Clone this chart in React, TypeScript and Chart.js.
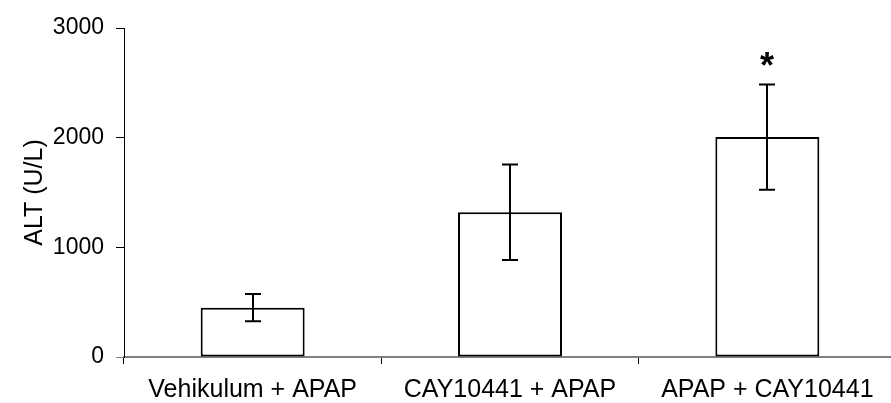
import React, { useEffect, useRef } from 'react';
import { Chart, registerables } from 'chart.js';

Chart.register(...registerables);

const categories = ['Vehikulum + APAP', 'CAY10441 + APAP', 'APAP + CAY10441'];
const altMeans = [450, 1320, 2005];
const altErrors = [125, 435, 480];
const significance = ['', '', '*'];
const yTicks = [0, 1000, 2000, 3000];
const yTitle = 'ALT (U/L)';

const FONT = '"Liberation Sans", Arial, sans-serif';

const errorBarPlugin = {
  id: 'errorBars',
  afterDatasetsDraw(chart: any) {
    const { ctx } = chart;
    const y = chart.scales.y;
    const meta = chart.getDatasetMeta(0);
    ctx.save();
    ctx.strokeStyle = '#000';
    ctx.lineWidth = 2;
    meta.data.forEach((bar: any, i: number) => {
      const x = Math.round(bar.x);
      const yTop = y.getPixelForValue(altMeans[i] + altErrors[i]);
      const yBot = y.getPixelForValue(altMeans[i] - altErrors[i]);
      ctx.beginPath();
      ctx.moveTo(x, yTop);
      ctx.lineTo(x, yBot);
      ctx.moveTo(x - 8, yTop);
      ctx.lineTo(x + 8, yTop);
      ctx.moveTo(x - 8, yBot);
      ctx.lineTo(x + 8, yBot);
      ctx.stroke();
      if (significance[i]) {
        ctx.font = `bold 36px ${FONT}`;
        ctx.textAlign = 'center';
        ctx.textBaseline = 'alphabetic';
        ctx.fillStyle = '#000';
        ctx.fillText(significance[i], x, yTop - 6);
      }
    });
    ctx.restore();
  },
};

export default function App() {
  const ref = useRef<HTMLCanvasElement | null>(null);

  useEffect(() => {
    if (!ref.current) return;
    const chart = new Chart(ref.current, {
      type: 'bar',
      data: {
        labels: categories,
        datasets: [
          {
            data: altMeans,
            backgroundColor: '#ffffff',
            borderColor: '#000000',
            borderWidth: 2,
            borderSkipped: false,
            categoryPercentage: 1,
            barPercentage: 0.404,
          },
        ],
      },
      options: {
        animation: false,
        responsive: false,
        devicePixelRatio: 1,
        layout: { padding: { top: 28, right: 4, left: 0, bottom: 0 } },
        plugins: {
          legend: { display: false },
          tooltip: { enabled: false },
        },
        scales: {
          x: {
            afterFit: (s: any) => {
              s.height = 46;
            },
            grid: {
              offset: true,
              drawOnChartArea: false,
              drawTicks: true,
              tickLength: 7,
              color: '#000',
              lineWidth: 1,
            },
            border: { display: true, color: '#808080', width: 2 },
            ticks: {
              color: '#000',
              padding: 11,
              maxRotation: 0,
              autoSkip: false,
              font: { family: FONT, size: 25 },
            },
          },
          y: {
            min: 0,
            max: 3000,
            afterFit: (s: any) => {
              s.width = 124;
            },
            afterBuildTicks: (s: any) => {
              s.ticks = yTicks.map((v) => ({ value: v }));
            },
            grid: {
              drawOnChartArea: false,
              drawTicks: true,
              tickLength: 8,
              color: (c: any) => (c.tick && c.tick.value === 0 ? '#808080' : '#000'),
              lineWidth: 1,
            },
            border: { display: true, color: '#000', width: 1 },
            ticks: {
              color: '#000',
              padding: 12,
              callback: (v: any) => String(v),
              font: { family: FONT, size: 23 },
            },
            title: {
              display: true,
              text: yTitle,
              color: '#000',
              padding: { top: 20, bottom: 0 },
              font: { family: FONT, size: 25 },
            },
          },
        },
      },
      plugins: [errorBarPlugin],
    });
    return () => chart.destroy();
  }, []);

  return (
    <div
      style={{
        position: 'fixed',
        left: 0,
        top: 0,
        width: 891,
        height: 403,
        overflow: 'hidden',
        background: '#fff',
      }}
    >
      <canvas ref={ref} width={900} height={403} style={{ display: 'block' }} />
    </div>
  );
}
